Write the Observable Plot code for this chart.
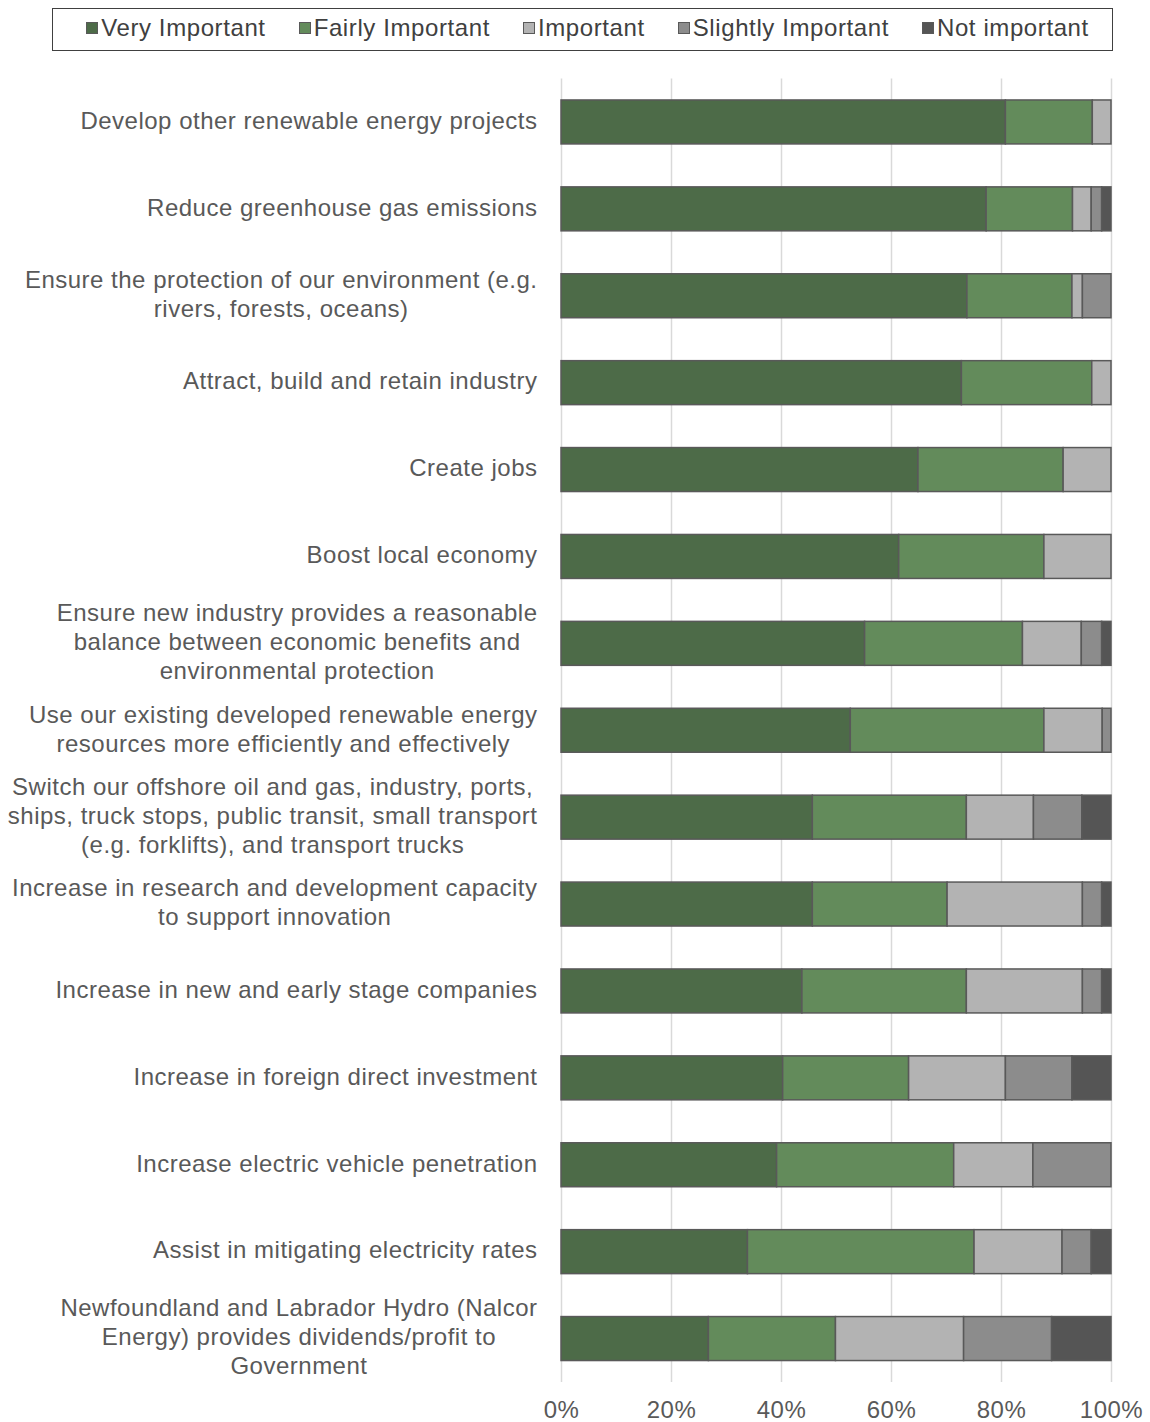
<!DOCTYPE html>
<html>
<head>
<meta charset="utf-8">
<script src="https://cdn.jsdelivr.net/npm/d3@7"></script>
<script src="https://cdn.jsdelivr.net/npm/@observablehq/plot@0.6"></script>
<style>
  html, body { margin: 0; padding: 0; background: #fff; }
  body { width: 1150px; height: 1422px; overflow: hidden; font-family: "Liberation Sans", Arial, sans-serif; }
  #legend {
    box-sizing: border-box; margin: 8px 0 0 52px; width: 1061px; height: 43px;
    border: 1.5px solid #404040; display: flex; align-items: center; justify-content: center;
    gap: 33px; font-size: 24px; color: #404040; letter-spacing: 0.6px; padding: 0 0 3px 10px;
  }
  #legend .item { display: flex; align-items: center; }
  #legend .sw { width: 12px; height: 12px; border: 1px solid #595959; margin-right: 3px; box-sizing: border-box; }
  #chart { display: block; }
</style>
</head>
<body>
<div id="legend"></div>
<div id="chart"></div>
<script>
const categories = [
  "Develop other renewable energy projects",
  "Reduce greenhouse gas emissions",
  "Ensure the protection of our environment (e.g.\nrivers, forests, oceans)",
  "Attract, build and retain industry",
  "Create jobs",
  "Boost local economy",
  "Ensure new industry provides a reasonable\nbalance between economic benefits and\nenvironmental protection",
  "Use our existing developed renewable energy\nresources more efficiently and effectively",
  "Switch our offshore oil and gas, industry, ports,\nships, truck stops, public transit, small transport\n(e.g. forklifts), and transport trucks",
  "Increase in research and development capacity\nto support innovation",
  "Increase in new and early stage companies",
  "Increase in foreign direct investment",
  "Increase electric vehicle penetration",
  "Assist in mitigating electricity rates",
  "Newfoundland and Labrador Hydro (Nalcor\nEnergy) provides dividends/profit to\nGovernment"
];
const seriesNames = ["Very Important", "Fairly Important", "Important", "Slightly Important", "Not important"];
const seriesColors = ["#4d6b48", "#638b5b", "#b3b3b3", "#8c8c8c", "#555555"];
const veryImportant     = [80.8, 77.3, 73.8, 72.8, 64.9, 61.4, 55.2, 52.6, 45.7, 45.7, 43.8, 40.3, 39.2, 33.9, 26.8];
const fairlyImportant   = [15.8, 15.7, 19.1, 23.7, 26.4, 26.4, 28.7, 35.2, 28.0, 24.5, 29.9, 22.9, 32.2, 41.2, 23.1];
const important         = [ 3.4,  3.4,  1.9,  3.5,  8.7, 12.2, 10.7, 10.6, 12.2, 24.6, 21.1, 17.6, 14.4, 16.0, 23.3];
const slightlyImportant = [ 0.0,  1.9,  5.2,  0.0,  0.0,  0.0,  3.7,  1.6,  8.8,  3.5,  3.5, 12.1, 14.2,  5.3, 16.0];
const notImportant      = [ 0.0,  1.7,  0.0,  0.0,  0.0,  0.0,  1.7,  0.0,  5.3,  1.7,  1.7,  7.1,  0.0,  3.6, 10.8];
const xTicks = [0, 20, 40, 60, 80, 100];

const seriesValues = [veryImportant, fairlyImportant, important, slightlyImportant, notImportant];
const data = [];
categories.forEach((c, i) => {
  seriesNames.forEach((s, j) => {
    data.push({category: c, series: s, value: seriesValues[j][i]});
  });
});

// legend
const legend = document.getElementById("legend");
seriesNames.forEach((s, j) => {
  const it = document.createElement("div");
  it.className = "item";
  const sw = document.createElement("div");
  sw.className = "sw";
  sw.style.background = seriesColors[j];
  it.appendChild(sw);
  const t = document.createElement("span");
  t.textContent = s;
  it.appendChild(t);
  legend.appendChild(it);
});

const chart = Plot.plot({
  width: 1150,
  height: 1371,
  marginTop: 27.5,
  marginBottom: 40,
  marginLeft: 561,
  marginRight: 39,
  style: {fontFamily: "'Liberation Sans', Arial, sans-serif", background: "#fff"},
  x: {domain: [0, 100], ticks: xTicks},
  y: {domain: categories, paddingInner: 0.494, paddingOuter: 0.247, round: false},
  color: {domain: seriesNames, range: seriesColors},
  marks: [
    Plot.ruleX(xTicks, {x: d => d, stroke: "#d9d9d9", strokeWidth: 1.5}),
    Plot.barX(data, Plot.stackX({
      x: "value", y: "category", fill: "series", order: seriesNames,
      stroke: "#595959", strokeWidth: 1.5, inset: 0
    })),
    Plot.axisX({
      ticks: xTicks, tickFormat: d => d + "%", tickSize: 0, tickPadding: 18,
      fontSize: 24, fill: "#595959", label: null
    }),
    Plot.axisY({
      tickSize: 0, tickPadding: 24, fontSize: 24, fill: "#595959", dy: -3,
      lineHeight: 1.21, label: null, textOverflow: null, lineWidth: 100
    })
  ]
});
document.getElementById("chart").appendChild(chart);

chart.querySelectorAll('g[aria-label="y-axis tick label"] text, g[aria-label="x-axis tick label"] text').forEach(t => {
  t.style.letterSpacing = "0.5px";
});
// center multi-line labels like the original (block right edge at the same x)
const labels = chart.querySelectorAll('g[aria-label="y-axis tick label"] text');
labels.forEach(t => {
  const w = t.getBBox().width;
  t.setAttribute("text-anchor", "middle");
  t.setAttribute("x", -w / 2);
  t.querySelectorAll("tspan").forEach(ts => ts.setAttribute("x", -w / 2));
});
</script>
</body>
</html>
